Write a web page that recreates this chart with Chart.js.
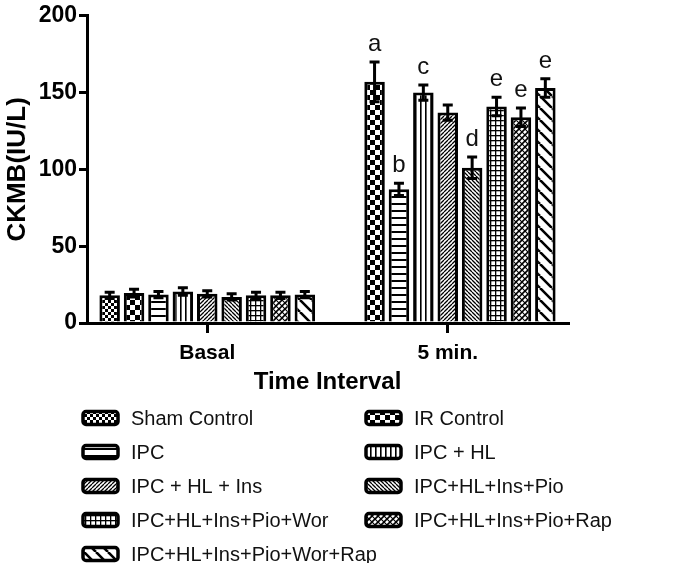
<!DOCTYPE html>
<html>
<head>
<meta charset="utf-8">
<script src="https://cdn.jsdelivr.net/npm/chart.js@4.4.1/dist/chart.umd.min.js"></script>
<style>
  body { margin: 0; background: #fff; }
  #wrap { width: 673px; height: 563px; }
</style>
</head>
<body>
<div id="wrap"><canvas id="ckmbChart" width="673" height="563"></canvas></div>
<script>
// Daten
const categories = ['Basal', '5 min.'];
const groupNames = [
    'Sham Control', 'IR Control', 'IPC', 'IPC + HL', 'IPC + HL + Ins',
    'IPC+HL+Ins+Pio', 'IPC+HL+Ins+Pio+Wor', 'IPC+HL+Ins+Pio+Rap', 'IPC+HL+Ins+Pio+Wor+Rap'
];
const basalMeans  = [18, 19.5, 18.5, 20.5, 19, 17, 18, 18, 18.5];
const basalErrors = [2, 2.5, 2, 2.5, 2, 2, 2, 2, 2];
const min5Means   = [null, 157, 87, 150, 137, 101, 141, 134, 153];
const min5Errors  = [null, 13, 4, 5, 5, 7, 6, 6, 6];
const min5Letters = ['', 'a', 'b', 'c', '', 'd', 'e', 'e', 'e'];
const yTicks = [0, 50, 100, 150, 200];

const FONT = "'Liberation Sans', Arial, sans-serif";

// Muster für die Balken
function makePattern(w, h, draw) {
    const c = document.createElement('canvas');
    c.width = w; c.height = h;
    const p = c.getContext('2d');
    p.fillStyle = '#fff';
    p.fillRect(0, 0, w, h);
    p.fillStyle = '#000';
    p.strokeStyle = '#000';
    draw(p, w, h);
    return document.createElement('canvas').getContext('2d').createPattern(c, 'repeat');
}
function diag(p, s, lw, back) {
    p.lineWidth = lw;
    p.beginPath();
    for (const k of [-s, 0, s]) {
        if (back) { p.moveTo(k, 0); p.lineTo(k + s, s); }
        else { p.moveTo(k, s); p.lineTo(k + s, 0); }
    }
    p.stroke();
}
const patterns = [
    makePattern(6, 6, p => { p.fillRect(0, 0, 3, 3); p.fillRect(3, 3, 3, 3); }),
    makePattern(10, 10, p => { p.fillRect(0, 0, 5, 5); p.fillRect(5, 5, 5, 5); }),
    makePattern(7, 7, p => { p.fillRect(0, 0, 7, 2); }),
    makePattern(5, 5, p => { p.fillRect(0, 0, 1.6, 5); }),
    makePattern(4, 4, p => diag(p, 4, 1.3, false)),
    makePattern(4, 4, p => diag(p, 4, 1.3, true)),
    makePattern(5, 5, p => { p.fillRect(0, 0, 5, 1.3); p.fillRect(0, 0, 1.3, 5); }),
    makePattern(6, 6, p => { diag(p, 6, 1.6, false); diag(p, 6, 1.2, true); }),
    makePattern(12, 12, p => diag(p, 12, 2.6, true))
];

const datasets = groupNames.map((name, i) => ({
    label: name,
    data: [basalMeans[i], min5Means[i]],
    errors: [basalErrors[i], min5Errors[i]],
    letters: ['', min5Letters[i]],
    backgroundColor: patterns[i],
    borderColor: '#000',
    borderWidth: 3,
    borderSkipped: 'bottom',
    categoryPercentage: 0.913,
    barPercentage: 0.84
}));

// Fehlerbalken und Buchstaben
const errorBarPlugin = {
    id: 'errorBars',
    afterDatasetsDraw(chart) {
        const ctx = chart.ctx;
        const y = chart.scales.y;
        chart.data.datasets.forEach((ds, i) => {
            const meta = chart.getDatasetMeta(i);
            meta.data.forEach((bar, j) => {
                const v = ds.data[j];
                if (v == null) return;
                const e = ds.errors[j];
                const top = y.getPixelForValue(v + e);
                const bottom = y.getPixelForValue(v - e);
                ctx.save();
                ctx.strokeStyle = '#000';
                ctx.lineWidth = 3;
                ctx.beginPath();
                ctx.moveTo(bar.x, bottom);
                ctx.lineTo(bar.x, top);
                ctx.moveTo(bar.x - 5, top);
                ctx.lineTo(bar.x + 5, top);
                ctx.moveTo(bar.x - 5, bottom);
                ctx.lineTo(bar.x + 5, bottom);
                ctx.stroke();
                if (ds.letters[j]) {
                    ctx.fillStyle = '#111';
                    ctx.font = '24px ' + FONT;
                    ctx.textAlign = 'center';
                    ctx.textBaseline = 'alphabetic';
                    ctx.fillText(ds.letters[j], bar.x, top - 11);
                }
                ctx.restore();
            });
        });
    }
};

// Legende in zwei Spalten
const legendPlugin = {
    id: 'patternLegend',
    afterDraw(chart) {
        const ctx = chart.ctx;
        const left = chart.chartArea.left;
        const top0 = chart.height - 145;
        chart.data.datasets.forEach((ds, i) => {
            const col = i % 2, row = Math.floor(i / 2);
            const bx = left - 4 + col * 283;
            const cy = top0 + row * 34;
            ctx.save();
            ctx.beginPath();
            ctx.roundRect(bx, cy - 6.5, 35, 13, 3);
            ctx.fillStyle = ds.backgroundColor;
            ctx.fill();
            ctx.lineWidth = 3.5;
            ctx.strokeStyle = '#000';
            ctx.stroke();
            ctx.fillStyle = '#111';
            ctx.font = '20px ' + FONT;
            ctx.textAlign = 'left';
            ctx.textBaseline = 'middle';
            ctx.fillText(ds.label, bx + 48, cy + 1);
            ctx.restore();
        });
    }
};

new Chart(document.getElementById('ckmbChart').getContext('2d'), {
    type: 'bar',
    data: { labels: categories, datasets: datasets },
    plugins: [errorBarPlugin, legendPlugin],
    options: {
        responsive: false,
        animation: false,
        layout: { padding: { top: 12, right: 105, bottom: 164, left: 0 } },
        plugins: {
            legend: { display: false },
            tooltip: { enabled: false }
        },
        scales: {
            x: {
                afterFit: s => { s.height = 76; },
                border: { display: true, color: '#000', width: 3 },
                grid: { offset: false, drawOnChartArea: false, color: '#000', lineWidth: 3, tickLength: 10 },
                ticks: { color: '#000', padding: 8, font: { family: FONT, size: 21, weight: 'bold' } },
                title: {
                    display: true,
                    text: 'Time Interval',
                    color: '#000',
                    padding: { top: 0, bottom: 2 },
                    font: { family: FONT, size: 24, weight: 'bold' }
                }
            },
            y: {
                min: 0,
                max: yTicks[yTicks.length - 1],
                afterFit: s => { s.width = 87; },
                afterBuildTicks: s => { s.ticks = yTicks.map(v => ({ value: v })); },
                border: { display: true, color: '#000', width: 3 },
                grid: { drawOnChartArea: false, color: '#000', lineWidth: 3, tickLength: 8 },
                ticks: { color: '#000', padding: 2, font: { family: FONT, size: 23, weight: 'bold' } },
                title: {
                    display: true,
                    text: 'CKMB(IU/L)',
                    color: '#000',
                    padding: { top: 2, bottom: 0 },
                    font: { family: FONT, size: 26, weight: 'bold' }
                }
            }
        }
    }
});
</script>
</body>
</html>
